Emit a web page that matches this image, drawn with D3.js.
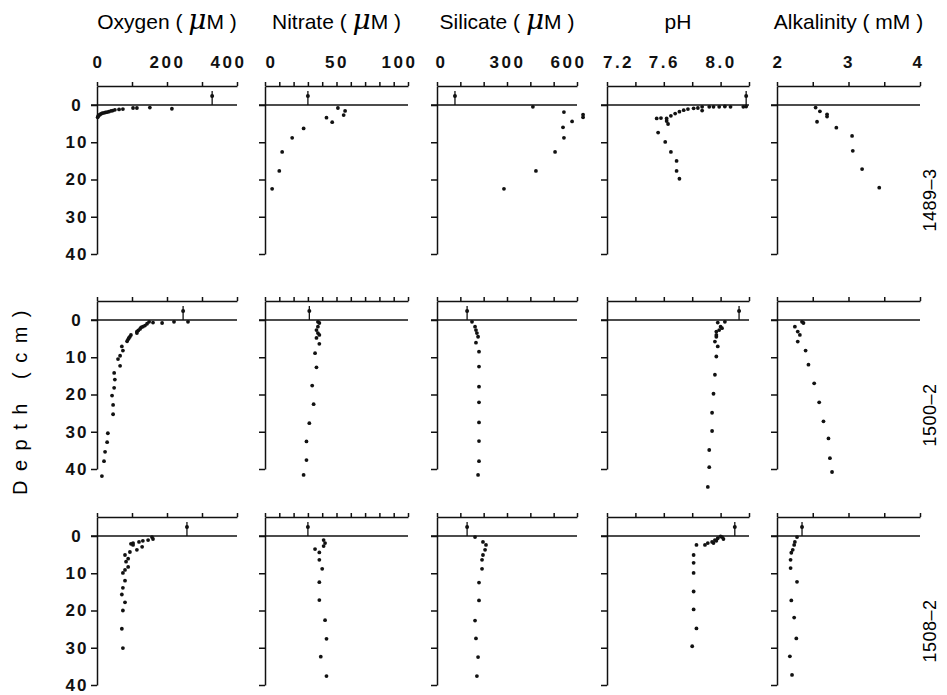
<!DOCTYPE html>
<html>
<head>
<meta charset="utf-8">
<script src="https://cdn.jsdelivr.net/npm/d3@7"></script>
<style>
  body { margin: 0; background: #fff; }
  svg { font-family: "Liberation Sans", Arial, sans-serif; }
</style>
</head>
<body>
<svg width="947" height="695"></svg>
<script>
// ---- data: [value, depth (cm)] ----
const stations = ["1489\u20133", "1500\u20132", "1508\u20132"];
const variables = ["Oxygen", "Nitrate", "Silicate", "pH", "Alkalinity"];
const units = ["\u03bcM", "\u03bcM", "\u03bcM", "", "mM"];
const domains = [[0, 400], [0, 100], [0, 600], [7.2, 8.2], [2, 4]];
const oxygenTicks = [0, 100, 200, 300, 400];
const nitrateTicks = [0, 10, 20, 30, 40, 50, 60, 70, 80, 90, 100];
const silicateTicks = [0, 100, 200, 300, 400, 500, 600];
const pHTicks = [7.2, 7.4, 7.6, 7.8, 8.0, 8.2];
const alkTicks = [2, 2.5, 3, 3.5, 4];
const tickLabels = [[0, 200, 400], [0, 50, 100], [0, 300, 600], [7.2, 7.6, 8.0], [2, 3, 4]];
const depthTicks = [0, 10, 20, 30, 40];

const oxygen1489 = [[214,1.0],[151,0.7],[114,0.8],[103,0.8],[74,1.1],[63,1.2],[51,1.3],[45,1.5],[40,1.6],
  [34,1.8],[29,1.9],[24,2.0],[20,2.1],[15,2.2],[11,2.4],[8,2.6],[6,2.7],[3,3.0],[2,3.3]];
const nitrate1489 = [[51,0.8],[56,1.6],[55,2.7],[43,3.4],[47,4.6],[27,6.3],[19,8.8],[12,12.6],[10,17.7],[5,22.5]];
const silicate1489 = [[411,0.5],[544,1.9],[626,2.6],[626,3.3],[579,4.4],[540,6.0],[544,8.8],[506,12.6],[424,17.7],[287,22.5]];
const pH1489 = [[8.18,0.4],[8.16,0.5],[8.07,0.5],[8.03,0.4],[7.99,0.5],[7.95,0.5],[7.92,0.5],[7.87,0.5],[7.87,1.5],
  [7.84,0.8],[7.81,0.9],[7.77,1.1],[7.74,1.4],[7.71,1.8],[7.68,2.3],[7.65,2.9],[7.62,3.6],[7.62,4.3],[7.63,5.1],
  [7.58,3.5],[7.55,3.6],[7.56,7.4],[7.61,9.9],[7.65,12.6],[7.69,15.0],[7.69,17.7],[7.71,19.8]];
const alk1489 = [[2.54,0.7],[2.60,1.7],[2.70,2.5],[2.70,3.1],[2.56,4.5],[2.83,6.1],[3.05,8.3],[3.06,12.3],[3.19,17.2],[3.43,22.2]];
const overlying1489 = [329, 30, 77, 8.18, null];

const oxygen1500 = [[260,0.5],[220,0.5],[186,0.8],[160,0.7],[149,0.5],[143,1.0],[137,1.5],[131,1.8],[126,2.0],[123,2.4],
  [118,2.8],[114,3.1],[114,3.5],[97,4.0],[94,4.5],[91,4.8],[89,5.2],[86,5.7],[71,7.1],[74,8.2],[66,9.6],[60,10.5],
  [66,12.3],[49,14.2],[51,16.0],[49,18.2],[43,20.3],[46,22.8],[46,25.3],[31,30.4],[29,32.8],[23,35.4],[20,37.9],[14,41.9]];
const nitrate1500 = [[37,0.5],[38,0.8],[37,1.8],[36,2.7],[37,3.5],[38,4.0],[36,4.8],[38,6.4],[35,8.9],[36,12.7],
  [33,17.6],[34,22.6],[31,27.7],[29,32.6],[29,37.6],[27,41.6]];
const silicate1500 = [[150,0.5],[163,1.8],[167,2.7],[171,3.5],[176,4.5],[167,6.1],[180,8.5],[180,12.5],[180,17.9],
  [180,22.1],[180,27.5],[180,32.5],[180,37.9],[176,41.6]];
const pH1500 = [[8.03,0.5],[7.98,0.7],[8.00,1.8],[7.99,2.7],[7.97,3.1],[8.01,2.2],[7.97,4.0],[7.97,4.5],[7.96,5.8],
  [7.98,7.1],[7.97,9.8],[7.96,14.7],[7.95,19.8],[7.94,24.9],[7.94,29.8],[7.92,34.9],[7.92,39.5],[7.91,44.8]];
const alk1500 = [[2.35,0.5],[2.37,0.8],[2.25,1.8],[2.29,3.1],[2.32,4.0],[2.29,5.8],[2.40,8.2],[2.44,12.0],[2.52,17.0],
  [2.59,22.1],[2.65,27.2],[2.72,31.8],[2.74,37.1],[2.77,40.8]];
const overlying1500 = [246, 31, 129, 8.13, null];

const oxygen1508 = [[157,0.3],[160,0.8],[146,1.1],[131,1.3],[120,1.6],[103,1.9],[97,2.1],[103,2.4],[129,2.9],[114,3.7],
  [94,4.3],[80,5.1],[89,6.1],[83,6.9],[89,8.3],[80,9.1],[74,9.9],[80,12.0],[74,13.9],[71,15.7],[80,17.8],[74,20.0],
  [71,24.9],[74,30.1]];
const nitrate1508 = [[41,1.1],[42,1.9],[41,2.7],[35,3.5],[38,4.4],[38,6.4],[40,8.8],[38,12.4],[38,17.2],[42,22.6],
  [43,27.6],[39,32.4],[43,37.6]];
const silicate1508 = [[163,0.3],[197,1.6],[210,2.4],[206,3.7],[197,5.1],[193,6.4],[193,8.8],[180,12.5],[180,17.3],
  [163,22.7],[167,27.5],[176,32.5],[171,37.6]];
const pH1508 = [[8.00,0.1],[8.01,0.3],[7.98,0.6],[8.02,0.8],[7.96,1.1],[7.97,1.3],[7.94,1.6],[7.91,1.9],[7.95,1.9],
  [7.89,2.4],[7.83,2.4],[7.81,5.1],[7.81,7.2],[7.81,9.9],[7.81,14.9],[7.81,19.7],[7.83,24.8],[7.80,29.6]];
const alk1508 = [[2.28,0.3],[2.25,1.6],[2.24,2.4],[2.22,3.7],[2.20,4.5],[2.19,6.4],[2.19,8.6],[2.28,12.3],[2.20,17.3],
  [2.24,21.9],[2.27,27.5],[2.18,32.3],[2.21,37.3]];
const overlying1508 = [257, 30, 129, 8.10, 2.35];

// ---- layout ----
const svg = d3.select("svg");
const colX = [97, 265, 437, 607, 777];
const colW = [140, 143, 140, 142, 143];
const rowZero = [105, 320, 536];
const depthPx = 149;    // 0..40 cm
const boxH = 19;        // overlying-water box above sediment surface
const topTicks = [oxygenTicks, nitrateTicks, silicateTicks, pHTicks, alkTicks];
// nudges for first / last top tick label so they don't run together
const firstShift = [1, 6, 4, 11, 1];
const lastShift = [-9, -9, -9, -2, -2];

const profiles = [
  [oxygen1489, nitrate1489, silicate1489, pH1489, alk1489],
  [oxygen1500, nitrate1500, silicate1500, pH1500, alk1500],
  [oxygen1508, nitrate1508, silicate1508, pH1508, alk1508]
];
const overlying = [overlying1489, overlying1500, overlying1508];

// column titles
variables.forEach((v, j) => {
  const t = svg.append("text")
    .attr("x", colX[j] + colW[j] / 2)
    .attr("y", 29)
    .attr("text-anchor", "middle")
    .attr("font-size", 21)
    .text(units[j] ? v + " ( " : v);
  if (units[j]) {
    if (units[j][0] === "\u03bc") {
      t.append("tspan").attr("font-style", "italic").attr("font-size", 28).attr("font-family", "DejaVu Serif").text("\u03bc");
      t.append("tspan").text(units[j].slice(1) + " )");
    } else {
      t.append("tspan").text(units[j] + " )");
    }
  }
});

// y title
svg.append("text")
  .attr("transform", "translate(27,398) rotate(-90)")
  .attr("text-anchor", "middle")
  .attr("font-size", 20)
  .attr("letter-spacing", 9.5)
  .text("Depth (cm)");

// station labels
stations.forEach((s, i) => {
  svg.append("text")
    .attr("transform", `translate(936,${rowZero[i] + 95}) rotate(-90)`)
    .attr("text-anchor", "middle")
    .attr("font-size", 18)
    .attr("letter-spacing", 0.5)
    .text(s);
});

stations.forEach((s, i) => {
  const zero = rowZero[i];
  const top = zero - boxH;
  const y = d3.scaleLinear().domain([0, 40]).range([zero, zero + depthPx]);
  const yAxisScale = d3.scaleLinear().domain([y.invert(top), 40]).range([top, zero + depthPx]);

  variables.forEach((v, j) => {
    const x = d3.scaleLinear().domain(domains[j]).range([colX[j], colX[j] + colW[j]]);
    const g = svg.append("g");

    // left depth axis
    const ya = g.append("g")
      .attr("transform", `translate(${colX[j]},0)`)
      .call(d3.axisLeft(yAxisScale).tickValues(depthTicks).tickSize(6).tickSizeOuter(0).tickPadding(4)
        .tickFormat(d => j === 0 ? d : ""));
    ya.selectAll("text")
      .attr("text-anchor", "middle")
      .attr("x", -20)
      .attr("font-size", 17)
      .attr("font-weight", "bold")
      .attr("letter-spacing", 2)
      .attr("font-family", "Liberation Sans, Arial, sans-serif")
      .attr("fill", "#111");

    // top value axis
    const labelled = tickLabels[j];
    const xa = g.append("g")
      .attr("transform", `translate(0,${top})`)
      .call(d3.axisTop(x).tickValues(topTicks[j]).tickSize(4).tickSizeOuter(0).tickPadding(14)
        .tickFormat(d => (i === 0 && labelled.some(l => Math.abs(l - d) < 1e-9)) ? (j === 3 ? d3.format(".1f")(d) : d) : ""));
    xa.selectAll("text")
      .attr("font-size", 17)
      .attr("font-weight", "bold")
      .attr("letter-spacing", 2.5)
      .attr("font-family", "Liberation Sans, Arial, sans-serif")
      .attr("fill", "#111")
      .attr("dx", d => d === domains[j][0] ? firstShift[j] : (d === domains[j][1] ? lastShift[j] : 0));

    g.selectAll(".domain, .tick line").attr("stroke", "#111").attr("stroke-width", 1.5);

    // sediment surface line
    g.append("line")
      .attr("x1", colX[j] - 6).attr("x2", colX[j] + colW[j])
      .attr("y1", y(0)).attr("y2", y(0))
      .attr("stroke", "#111").attr("stroke-width", 1.6);

    // overlying water value
    const ow = overlying[i][j];
    if (ow !== null) {
      g.append("line")
        .attr("x1", x(ow)).attr("x2", x(ow))
        .attr("y1", top + 5).attr("y2", zero)
        .attr("stroke", "#111").attr("stroke-width", 1.3);
      g.append("circle")
        .attr("cx", x(ow)).attr("cy", top + 10).attr("r", 2)
        .attr("fill", "#111");
    }

    // profile points
    g.selectAll("circle.pt")
      .data(profiles[i][j])
      .enter().append("circle")
      .attr("class", "pt")
      .attr("cx", d => x(d[0]))
      .attr("cy", d => y(d[1]))
      .attr("r", 1.9)
      .attr("fill", "#111");
  });
});
</script>
</body>
</html>
